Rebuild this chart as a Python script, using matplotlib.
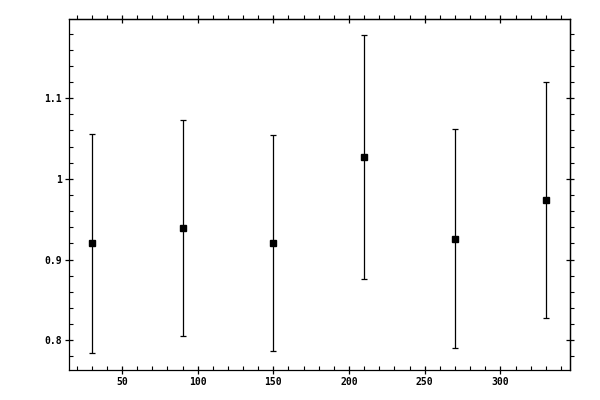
import matplotlib
matplotlib.use("Agg")
import matplotlib.pyplot as plt
from matplotlib.ticker import MultipleLocator, FuncFormatter

# data
x_vals = [30, 90, 150, 210, 270, 330]
y_vals = [0.920, 0.939, 0.921, 1.027, 0.926, 0.974]
y_err = [0.136, 0.134, 0.134, 0.151, 0.136, 0.146]

plt.rcParams['font.family'] = ['DejaVu Sans Mono']
plt.rcParams['font.size'] = 7
plt.rcParams['font.weight'] = 'bold'

fig = plt.figure(figsize=(6, 4), dpi=100)
ax = fig.add_axes([0.115, 0.075, 0.835, 0.877])

ax.errorbar(x_vals, y_vals, yerr=y_err, fmt='s', color='black',
            markersize=5, elinewidth=0.9, capsize=2.2, capthick=0.9)

ax.set_xlim(15, 346)
ax.set_ylim(0.763, 1.198)

ax.xaxis.set_major_locator(MultipleLocator(50))
ax.xaxis.set_minor_locator(MultipleLocator(10))
ax.yaxis.set_major_locator(MultipleLocator(0.1))
ax.yaxis.set_minor_locator(MultipleLocator(0.02))
ax.yaxis.set_major_formatter(FuncFormatter(lambda v, p: '%g' % round(v, 3)))

for sp in ax.spines.values():
    sp.set_linewidth(0.9)

ax.tick_params(which='major', direction='inout', length=5.8, width=0.9, pad=2)
ax.tick_params(which='minor', direction='in', length=2.9, width=0.8)

# top and right: same ticks, minors pointing outward, no labels
top = ax.secondary_xaxis('top')
top.xaxis.set_major_locator(MultipleLocator(50))
top.xaxis.set_minor_locator(MultipleLocator(10))
top.tick_params(which='major', direction='inout', length=5.8, width=0.9, labeltop=False)
top.tick_params(which='minor', direction='out', length=2.9, width=0.8)
top.spines['top'].set_linewidth(0.9)

right = ax.secondary_yaxis('right')
right.yaxis.set_major_locator(MultipleLocator(0.1))
right.yaxis.set_minor_locator(MultipleLocator(0.02))
right.tick_params(which='major', direction='inout', length=5.8, width=0.9, labelright=False)
right.tick_params(which='minor', direction='out', length=2.9, width=0.8)
right.spines['right'].set_linewidth(0.9)

fig.savefig('out.png', dpi=100)
